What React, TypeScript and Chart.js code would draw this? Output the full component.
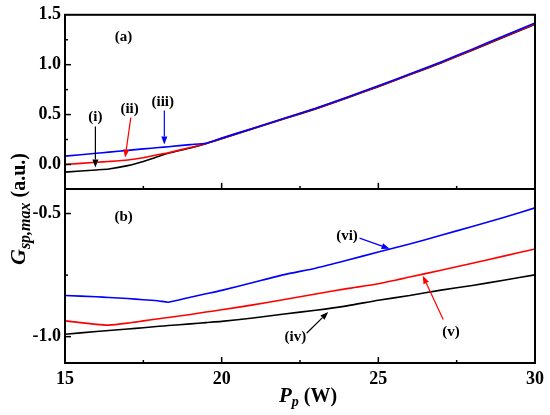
import React, { useEffect, useRef } from 'react'
import { Chart, registerables } from 'chart.js'

Chart.register(...registerables)

// pump power P_p (W)
const X_VALUES = [15, 16, 16.4, 17, 17.5, 18, 18.3, 19, 19.5, 20, 21, 22, 23, 24, 25, 26, 27, 28, 29, 30]

// panel (a)
const CURVE_I = [-0.077, -0.055, -0.045, -0.012, 0.03, 0.082, 0.112, 0.165, 0.208, 0.257, 0.357, 0.457, 0.557, 0.667, 0.78, 0.898, 1.018, 1.145, 1.275, 1.405]
const CURVE_II = [0.0, 0.022, 0.03, 0.045, 0.068, 0.1, 0.118, 0.17, 0.21, 0.26, 0.36, 0.46, 0.56, 0.67, 0.783, 0.902, 1.022, 1.15, 1.28, 1.41]
const CURVE_III = [0.083, 0.112, 0.124, 0.141, 0.156, 0.17, 0.178, 0.199, 0.213, 0.264, 0.364, 0.464, 0.564, 0.674, 0.788, 0.907, 1.028, 1.156, 1.287, 1.418]

// panel (b)
const CURVE_IV = [-0.99, -0.979, -0.975, -0.969, -0.964, -0.958, -0.955, -0.948, -0.943, -0.938, -0.924, -0.908, -0.893, -0.875, -0.852, -0.833, -0.811, -0.792, -0.771, -0.749]
const CURVE_V = [-0.936, -0.95, -0.953, -0.945, -0.936, -0.927, -0.922, -0.91, -0.9, -0.891, -0.871, -0.849, -0.827, -0.805, -0.785, -0.758, -0.73, -0.702, -0.673, -0.644]
const CURVE_VI = [-0.833, -0.838, -0.841, -0.845, -0.85, -0.855, -0.86, -0.84, -0.826, -0.812, -0.78, -0.748, -0.722, -0.69, -0.656, -0.624, -0.588, -0.553, -0.516, -0.477]

// ticks
const X_TICKS = [15, 20, 25, 30]
const X_MINOR = [17.5, 22.5, 27.5]
const TOP_TICKS = [0, 0.5, 1.0, 1.5]
const TOP_MINOR = [0.25, 0.75, 1.25]
const BOT_TICKS = [-1.0, -0.5]
const BOT_MINOR = [-0.75]

const SERIF = '"Liberation Serif", "Times New Roman", serif'
const BLACK = '#000000'
const RED = '#ff0000'
const BLUE = '#0000ff'

const pts = (ys: number[]) => X_VALUES.map((x, i) => ({ x, y: ys[i] }))

function drawArrow(ctx: CanvasRenderingContext2D, x1: number, y1: number, x2: number, y2: number, color: string) {
  const ang = Math.atan2(y2 - y1, x2 - x1)
  const head = 8
  const half = 3
  const bx = x2 - head * Math.cos(ang)
  const by = y2 - head * Math.sin(ang)
  ctx.strokeStyle = color
  ctx.fillStyle = color
  ctx.lineWidth = 1.2
  ctx.beginPath()
  ctx.moveTo(x1, y1)
  ctx.lineTo(bx, by)
  ctx.stroke()
  ctx.beginPath()
  ctx.moveTo(x2, y2)
  ctx.lineTo(bx + half * Math.sin(ang), by - half * Math.cos(ang))
  ctx.lineTo(bx - half * Math.sin(ang), by + half * Math.cos(ang))
  ctx.closePath()
  ctx.fill()
}

const framePlugin = {
  id: 'frame',
  afterDraw(chart: any) {
    const ctx: CanvasRenderingContext2D = chart.ctx
    const { left, right, top, bottom } = chart.chartArea
    const sx = chart.scales.x
    const yt = chart.scales.yt
    const yb = chart.scales.yb
    const mid = yt.bottom

    ctx.save()
    ctx.strokeStyle = '#000'
    ctx.lineWidth = 2
    ctx.strokeRect(left, top, right - left, bottom - top)
    ctx.beginPath()
    ctx.moveTo(left, mid)
    ctx.lineTo(right, mid)
    ctx.stroke()

    // inward tick marks
    ctx.lineWidth = 1.5
    const tickX = (vals: number[], len: number) => {
      for (const v of vals) {
        const px = sx.getPixelForValue(v)
        for (const base of [mid, bottom]) {
          ctx.beginPath()
          ctx.moveTo(px, base)
          ctx.lineTo(px, base - len)
          ctx.stroke()
        }
      }
    }
    tickX(X_TICKS.filter(v => v > 15 && v < 30), 6)
    tickX(X_MINOR, 3)
    const tickY = (scale: any, vals: number[], len: number) => {
      for (const v of vals) {
        const py = scale.getPixelForValue(v)
        ctx.beginPath()
        ctx.moveTo(left, py)
        ctx.lineTo(left + len, py)
        ctx.stroke()
      }
    }
    tickY(yt, TOP_TICKS.filter(v => v < 1.5), 6)
    tickY(yt, TOP_MINOR, 3)
    tickY(yb, BOT_TICKS, 6)
    tickY(yb, BOT_MINOR, 3)

    // annotations
    const px = (v: number) => sx.getPixelForValue(v)
    ctx.font = `bold 15px ${SERIF}`
    ctx.textAlign = 'center'
    ctx.textBaseline = 'middle'
    ctx.fillStyle = '#000'
    const label = (t: string, x: number, y: number, s: any) => ctx.fillText(t, px(x), s.getPixelForValue(y))
    label('(a)', 16.87, 1.28, yt)
    label('(b)', 16.87, -0.513, yb)
    label('(i)', 15.97, 0.47, yt)
    label('(ii)', 17.06, 0.556, yt)
    label('(iii)', 18.12, 0.62, yt)
    label('(iv)', 22.35, -1.0, yb)
    label('(v)', 27.32, -0.98, yb)
    label('(vi)', 24.0, -0.593, yb)

    const arrow = (x1: number, y1: number, x2: number, y2: number, s: any, c: string) =>
      drawArrow(ctx, px(x1), s.getPixelForValue(y1), px(x2), s.getPixelForValue(y2), c)
    arrow(15.97, 0.38, 15.97, -0.03, yt, BLACK)
    arrow(17.1, 0.47, 16.92, 0.07, yt, RED)
    arrow(18.17, 0.54, 18.17, 0.2, yt, BLUE)
    arrow(22.71, -0.986, 23.4, -0.9, yb, BLACK)
    arrow(27.07, -0.93, 26.42, -0.753, yb, RED)
    arrow(24.4, -0.6, 25.36, -0.643, yb, BLUE)

    ctx.fillStyle = '#000'

    // x axis title: P_p (W)
    ctx.textAlign = 'left'
    ctx.textBaseline = 'alphabetic'
    const xt1 = 'P'
    const xt2 = 'p'
    const xt3 = ' (W)'
    const f1 = `italic bold 21px ${SERIF}`
    const f2 = `italic bold 14px ${SERIF}`
    const f3 = `bold 20px ${SERIF}`
    ctx.font = f1
    const w1 = ctx.measureText(xt1).width
    ctx.font = f2
    const w2 = ctx.measureText(xt2).width
    ctx.font = f3
    const w3 = ctx.measureText(xt3).width
    let cx = (left + right) / 2 + 8 - (w1 + w2 + w3) / 2
    const by = 402
    ctx.font = f1
    ctx.fillText(xt1, cx, by)
    cx += w1
    ctx.font = f2
    ctx.fillText(xt2, cx, by + 4)
    cx += w2
    ctx.font = f3
    ctx.fillText(xt3, cx, by)

    // y axis title: G_sp,max (a.u.)
    ctx.translate(25, 209)
    ctx.rotate(-Math.PI / 2)
    const g1 = 'G'
    const g2 = 'sp,max'
    const g3 = ' (a.u.)'
    const h1 = `italic bold 22px ${SERIF}`
    const h2 = `italic bold 16px ${SERIF}`
    const h3 = `bold 20px ${SERIF}`
    ctx.font = h1
    const a1 = ctx.measureText(g1).width
    ctx.font = h2
    const a2 = ctx.measureText(g2).width
    ctx.font = h3
    const a3 = ctx.measureText(g3).width
    let cy = -(a1 + a2 + a3) / 2
    ctx.font = h1
    ctx.fillText(g1, cy, 0)
    cy += a1
    ctx.font = h2
    ctx.fillText(g2, cy, 5)
    cy += a2
    ctx.font = h3
    ctx.fillText(g3, cy, 0)

    ctx.restore()
  },
}

export default function App() {
  const canvasRef = useRef<HTMLCanvasElement | null>(null)
  const chartRef = useRef<Chart | null>(null)

  useEffect(() => {
    if (!canvasRef.current) return
    const tickFont = { family: SERIF, size: 18, weight: 'bold' as const }
    const line = (data: number[], color: string, axis: string, order: number) => ({
      data: pts(data),
      borderColor: color,
      borderWidth: 1.6,
      pointRadius: 0,
      tension: 0.2,
      fill: false,
      yAxisID: axis,
      order,
    })

    chartRef.current = new Chart(canvasRef.current, {
      type: 'line',
      data: {
        datasets: [
          line(CURVE_I, BLACK, 'yt', 2),
          line(CURVE_II, RED, 'yt', 1),
          line(CURVE_III, BLUE, 'yt', 0),
          line(CURVE_IV, BLACK, 'yb', 2),
          line(CURVE_V, RED, 'yb', 1),
          line(CURVE_VI, BLUE, 'yb', 0),
        ],
      },
      options: {
        animation: false,
        responsive: true,
        maintainAspectRatio: false,
        layout: { padding: { top: 12, right: 12, left: 0, bottom: 0 } },
        plugins: { legend: { display: false }, tooltip: { enabled: false } },
        scales: {
          x: {
            type: 'linear',
            min: 15,
            max: 30,
            afterBuildTicks: (s: any) => { s.ticks = X_TICKS.map(v => ({ value: v })) },
            afterFit: (s: any) => { s.height = 52 },
            grid: { display: false, drawTicks: false },
            border: { display: false },
            ticks: { font: tickFont, color: '#000', padding: 6, maxRotation: 0, callback: (v: any) => String(v) },
          },
          yb: {
            type: 'linear',
            position: 'left',
            stack: 'panels',
            stackWeight: 1,
            min: -1.107,
            max: -0.4,
            afterBuildTicks: (s: any) => { s.ticks = BOT_TICKS.map(v => ({ value: v })) },
            afterFit: (s: any) => { s.width = 65 },
            grid: { display: false, drawTicks: false },
            border: { display: false },
            ticks: { font: tickFont, color: '#000', padding: 4, callback: (v: any) => Number(v).toFixed(1) },
          },
          yt: {
            type: 'linear',
            position: 'left',
            stack: 'panels',
            stackWeight: 1,
            min: -0.245,
            max: 1.5,
            afterBuildTicks: (s: any) => { s.ticks = TOP_TICKS.map(v => ({ value: v })) },
            afterFit: (s: any) => { s.width = 65 },
            grid: { display: false, drawTicks: false },
            border: { display: false },
            ticks: { font: tickFont, color: '#000', padding: 4, callback: (v: any) => Number(v).toFixed(1) },
          },
        },
      } as any,
      plugins: [framePlugin],
    })

    return () => {
      if (chartRef.current) {
        chartRef.current.destroy()
        chartRef.current = null
      }
    }
  }, [])

  return (
    <div style={{ position: 'fixed', left: 0, top: 0, width: 550, height: 415, background: '#fff' }}>
      <canvas ref={canvasRef} />
    </div>
  )
}
